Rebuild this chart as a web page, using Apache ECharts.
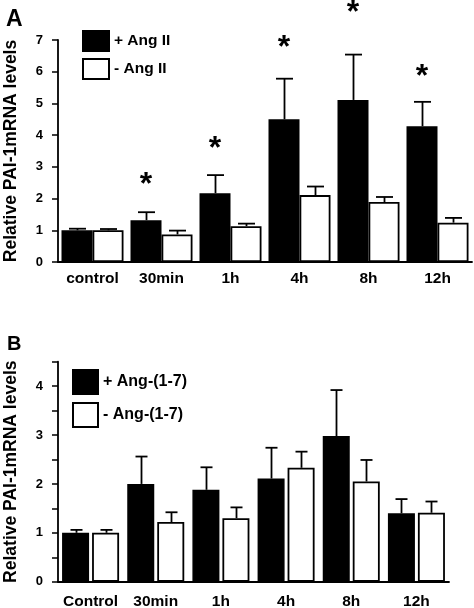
<!DOCTYPE html>
<html>
<head>
<meta charset="utf-8">
<script src="https://cdn.jsdelivr.net/npm/echarts@6/dist/echarts.min.js"></script>
<style>
html,body{margin:0;padding:0;background:#fff;}
#c{width:474px;height:608px;}
</style>
</head>
<body>
<div id="c"></div>
<script>
// ---- Panel A data ----
const categoriesA = ['control', '30min', '1h', '4h', '8h', '12h'];
const plusAngII = [1.0, 1.32, 2.17, 4.50, 5.11, 4.28];
const plusAngIIErr = [0.05, 0.25, 0.57, 1.28, 1.43, 0.77];
const minusAngII = [1.0, 0.87, 1.13, 2.11, 1.89, 1.24];
const minusAngIIErr = [0.04, 0.12, 0.08, 0.27, 0.16, 0.15];
const sigMarkA = [null, 2.65, 3.79, 6.95, 8.07, 6.06];
const yTicksA = [0, 1, 2, 3, 4, 5, 6, 7];

// ---- Panel B data ----
const categoriesB = ['Control', '30min', '1h', '4h', '8h', '12h'];
const plusAng17 = [1.0, 2.0, 1.88, 2.11, 2.98, 1.40];
const plusAng17Err = [0.06, 0.56, 0.46, 0.63, 0.94, 0.29];
const minusAng17 = [1.0, 1.22, 1.30, 2.33, 2.05, 1.41];
const minusAng17Err = [0.06, 0.20, 0.22, 0.33, 0.44, 0.23];
const yTicksB = [0, 1, 2, 3, 4];

const FONT = '"Liberation Sans", Arial, Helvetica, sans-serif';

const chart = echarts.init(document.getElementById('c'), null, {renderer: 'canvas'});

const BW_A = 31, GAP_A = 0;
const BW_B = 27, GAP_B = 3;

function errSeries(name, grid, vals, errs, side, bw, gap, capW) {
  const off = side * (bw + gap) / 2;
  return {
    type: 'custom', name: name, xAxisIndex: grid, yAxisIndex: grid, z: 5,
    data: vals.map((v, i) => [i, v, v + errs[i]]),
    renderItem: function (params, api) {
      const p0 = api.coord([api.value(0), api.value(1)]);
      const p1 = api.coord([api.value(0), api.value(2)]);
      const x = Math.round(p0[0] + off) + 0.5;
      return {
        type: 'group',
        children: [
          {type: 'line', shape: {x1: x, y1: p0[1], x2: x, y2: p1[1]}, style: {stroke: '#000', lineWidth: 1.8}},
          {type: 'line', shape: {x1: x - capW / 2, y1: p1[1], x2: x + capW / 2, y2: p1[1]}, style: {stroke: '#000', lineWidth: 1.8}}
        ]
      };
    }
  };
}

function starSeries(grid, marks, bw, gap) {
  const off = -(bw + gap) / 2;
  const data = [];
  marks.forEach((m, i) => { if (m != null) data.push([i, m]); });
  return {
    type: 'custom', name: 'sig', xAxisIndex: grid, yAxisIndex: grid, z: 6, clip: false,
    data: data,
    renderItem: function (params, api) {
      const p = api.coord([api.value(0), api.value(1)]);
      return {
        type: 'text',
        x: p[0] + off, y: p[1] + 7,
        style: {text: '*', fill: '#000', font: 'bold 32px ' + FONT, textAlign: 'center', textVerticalAlign: 'middle'}
      };
    }
  };
}

const axisLabelStyle = {color: '#000', fontWeight: 'bold', fontFamily: FONT};

const option = {
  animation: false,
  backgroundColor: '#fff',
  title: [
    {text: 'A', left: 1, top: 3, textStyle: {fontSize: 23, fontWeight: 'bold', fontFamily: FONT, color: '#000'}},
    {text: 'B', left: 2, top: 329, textStyle: {fontSize: 20, fontWeight: 'bold', fontFamily: FONT, color: '#000'}}
  ],
  legend: [
    {
      orient: 'vertical', left: 82, top: 30, itemWidth: 26, itemHeight: 20, itemGap: 6,
      icon: 'rect', data: ['+ Ang II', '- Ang II'],
      textStyle: {fontSize: 15.5, fontWeight: 'bold', fontFamily: FONT, color: '#000'},
      padding: 0, selectedMode: false
    },
    {
      orient: 'vertical', left: 72, top: 369, itemWidth: 25, itemHeight: 24, itemGap: 7,
      icon: 'rect', data: ['+ Ang-(1-7)', '- Ang-(1-7)'],
      textStyle: {fontSize: 16, fontWeight: 'bold', fontFamily: FONT, color: '#000'},
      padding: 0, selectedMode: false
    }
  ],
  grid: [
    {left: 58, width: 414, top: 40, height: 222, containLabel: false, outerBoundsMode: 'none'},
    {left: 58, width: 391, top: 361.7, height: 220, containLabel: false, outerBoundsMode: 'none'}
  ],
  xAxis: [
    {
      gridIndex: 0, type: 'category', data: categoriesA,
      axisLine: {lineStyle: {color: '#000', width: 1.8}},
      axisTick: {alignWithLabel: true, interval: 0, length: 4, lineStyle: {color: '#000', width: 1.5}},
      axisLabel: Object.assign({fontSize: 15.5, margin: 9, interval: 0}, axisLabelStyle)
    },
    {
      gridIndex: 1, type: 'category', data: categoriesB,
      axisLine: {lineStyle: {color: '#000', width: 1.8}},
      axisTick: {alignWithLabel: true, interval: 0, length: 4, lineStyle: {color: '#000', width: 1.5}},
      axisLabel: Object.assign({fontSize: 15.5, margin: 12, interval: 0}, axisLabelStyle)
    }
  ],
  yAxis: [
    {
      gridIndex: 0, type: 'value', min: yTicksA[0], max: yTicksA[yTicksA.length - 1], interval: 1,
      name: 'Relative PAI-1mRNA levels', nameLocation: 'middle', nameGap: 38, nameRotate: 90,
      nameTextStyle: {fontSize: 17.5, fontWeight: 'bold', fontFamily: FONT, color: '#000'},
      axisLine: {show: true, lineStyle: {color: '#000', width: 1.8}},
      axisTick: {show: true, length: 6, lineStyle: {color: '#000', width: 1.5}},
      splitLine: {show: false},
      axisLabel: Object.assign({fontSize: 13, margin: 15}, axisLabelStyle)
    },
    {
      gridIndex: 1, type: 'value', min: 0, max: 4.5, interval: 0.5,
      name: 'Relative PAI-1mRNA levels', nameLocation: 'middle', nameGap: 38, nameRotate: 90,
      nameTextStyle: {fontSize: 17.5, fontWeight: 'bold', fontFamily: FONT, color: '#000'},
      axisLine: {show: true, lineStyle: {color: '#000', width: 1.8}},
      axisTick: {show: true, length: 6, lineStyle: {color: '#000', width: 1.5}},
      splitLine: {show: false},
      axisLabel: Object.assign({fontSize: 13, margin: 15,
        formatter: v => (yTicksB.indexOf(v) >= 0 ? String(v) : '')}, axisLabelStyle)
    }
  ],
  series: [
    {
      type: 'bar', name: '+ Ang II', xAxisIndex: 0, yAxisIndex: 0, data: plusAngII,
      barWidth: BW_A, barGap: (GAP_A / BW_A * 100) + '%',
      itemStyle: {color: '#000', borderColor: '#000', borderWidth: 1.5}
    },
    {
      type: 'bar', name: '- Ang II', xAxisIndex: 0, yAxisIndex: 0, data: minusAngII,
      barWidth: BW_A,
      itemStyle: {color: '#fff', borderColor: '#000', borderWidth: 1.8}
    },
    {
      type: 'bar', name: '+ Ang-(1-7)', xAxisIndex: 1, yAxisIndex: 1, data: plusAng17,
      barWidth: BW_B, barGap: (GAP_B / BW_B * 100) + '%',
      itemStyle: {color: '#000', borderColor: '#000', borderWidth: 1.5}
    },
    {
      type: 'bar', name: '- Ang-(1-7)', xAxisIndex: 1, yAxisIndex: 1, data: minusAng17,
      barWidth: BW_B,
      itemStyle: {color: '#fff', borderColor: '#000', borderWidth: 1.8}
    },
    errSeries('errA1', 0, plusAngII, plusAngIIErr, -1, BW_A, GAP_A, 17),
    errSeries('errA2', 0, minusAngII, minusAngIIErr, 1, BW_A, GAP_A, 17),
    errSeries('errB1', 1, plusAng17, plusAng17Err, -1, BW_B, GAP_B, 12),
    errSeries('errB2', 1, minusAng17, minusAng17Err, 1, BW_B, GAP_B, 12),
    starSeries(0, sigMarkA, BW_A, GAP_A)
  ]
};
chart.setOption(option);
</script>
</body>
</html>
